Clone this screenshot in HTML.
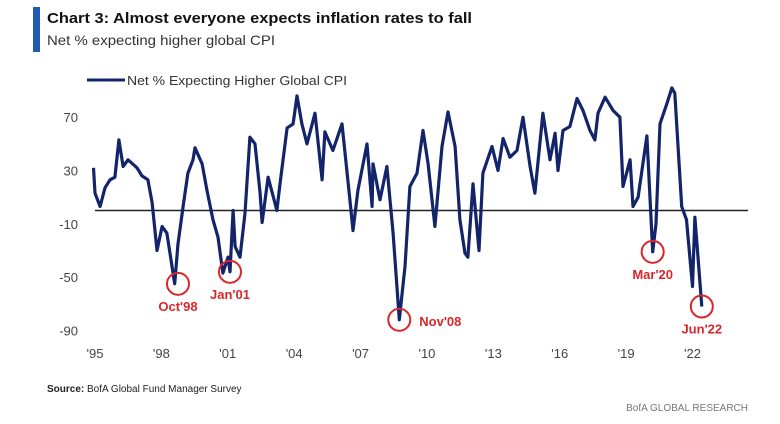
<!DOCTYPE html>
<html><head><meta charset="utf-8"><style>
body{margin:0;background:#fff;}
svg{display:block;font-family:"Liberation Sans",sans-serif;}
</style></head><body>
<svg id="c" width="780" height="424" xmlns="http://www.w3.org/2000/svg">
<rect x="0" y="0" width="780" height="424" fill="#fff"/>
<rect x="33" y="7" width="7" height="45" fill="#1f5bb5"/>
<text x="47" y="23" font-size="15" font-weight="bold" fill="#111" textLength="425" lengthAdjust="spacingAndGlyphs">Chart 3: Almost everyone expects inflation rates to fall</text>
<text x="47" y="45" font-size="14" fill="#333" textLength="228" lengthAdjust="spacingAndGlyphs">Net % expecting higher global CPI</text>
<line x1="87" y1="80" x2="125" y2="80" stroke="#13246a" stroke-width="3"/>
<text x="127" y="85" font-size="13" fill="#333" textLength="220" lengthAdjust="spacingAndGlyphs">Net % Expecting Higher Global CPI</text>
<g id="yaxis"></g>
<g id="xaxis"></g>
<g id="plot"></g>
<g id="ann"></g>
<text x="47" y="392" font-size="10" fill="#222"><tspan font-weight="bold">Source:</tspan> BofA Global Fund Manager Survey</text>
<text x="748" y="411" font-size="10" fill="#777" text-anchor="end">BofA GLOBAL RESEARCH</text>
</svg>
<script>
const dates=[1994.93,1995.0,1995.23,1995.45,1995.68,1995.9,1996.08,1996.27,1996.49,1996.9,1997.12,1997.39,1997.58,1997.8,1998.03,1998.25,1998.6,1998.75,1998.98,1999.2,1999.43,1999.52,1999.84,2000.06,2000.33,2000.56,2000.78,2001.01,2001.1,2001.24,2001.33,2001.55,2001.78,2002.0,2002.23,2002.46,2002.55,2002.82,2003.22,2003.36,2003.68,2003.95,2004.13,2004.35,2004.58,2004.94,2005.26,2005.39,2005.75,2006.16,2006.52,2006.66,2006.88,2007.29,2007.52,2007.56,2007.88,2008.19,2008.47,2008.75,2009.01,2009.23,2009.55,2009.82,2010.05,2010.36,2010.68,2010.95,2011.27,2011.49,2011.72,2011.85,2012.08,2012.35,2012.53,2012.94,2013.21,2013.44,2013.75,2014.07,2014.34,2014.66,2014.88,2015.24,2015.56,2015.79,2015.92,2016.15,2016.46,2016.78,2017.05,2017.37,2017.59,2017.73,2018.05,2018.41,2018.72,2018.86,2019.18,2019.31,2019.54,2019.94,2020.2,2020.35,2020.53,2020.84,2021.07,2021.2,2021.51,2021.73,2022.0,2022.11,2022.42];
const values=[32,13,3,17,23,25,53,33,38,32,26,23,6,-30,-12,-17,-55,-25,3,28,38,47,35,15,-7,-20,-47,-35,-46,0,-27,-35,-2,55,50,13,-9,25,0,20,62,65,86,65,50,73,23,59,45,65,8,-15,15,50,3,35,8,33,-17,-82,-42,18,28,60,35,-12,48,74,48,-7,-32,-35,20,-30,28,48,30,54,40,45,70,33,13,73,38,58,30,60,63,84,75,60,53,73,85,75,70,18,38,3,10,56,-31,-10,65,80,92,88,3,-7,-57,-5,-72];
const yTicks=[70,30,-10,-50,-90];
const xTicks=[1995,1998,2001,2004,2007,2010,2013,2016,2019,2022];
const xTickLabels=["'95","'98","'01","'04","'07","'10","'13","'16","'19","'22"];
const notes=[["Oct'98",1998.75,-55],["Jan'01",2001.1,-46],["Nov'08",2008.75,-82],["Mar'20",2020.2,-31],["Jun'22",2022.42,-72]];
const NS="http://www.w3.org/2000/svg";
const X=d=>95+(d-1995)*22.13;
const Y=v=>210.5-v*1.333;
function mk(t,a,p){const e=document.createElementNS(NS,t);for(const k in a)e.setAttribute(k,a[k]);p.appendChild(e);return e;}
const ya=document.getElementById('yaxis'),xa=document.getElementById('xaxis'),pl=document.getElementById('plot'),an=document.getElementById('ann');
yTicks.forEach(v=>{const t=mk('text',{x:78,y:Y(v)+5,'font-size':13,fill:'#444','text-anchor':'end'},ya);t.textContent=v;

});
xTicks.forEach((d,i)=>{const t=mk('text',{x:X(d),y:358,'font-size':13,fill:'#444','text-anchor':'middle'},xa);t.textContent=xTickLabels[i];

});
const z=mk('line',{x1:95,x2:748,y1:Y(0),y2:Y(0),stroke:'#222','stroke-width':1.5},pl);


const n=Math.min(dates.length,values.length);
let d='';for(let i=0;i<n;i++)d+=(i?'L':'M')+X(dates[i]).toFixed(1)+','+Y(values[i]).toFixed(1);
const path=mk('path',{d:d,fill:'none',stroke:'#13246a','stroke-width':3.2,'stroke-linejoin':'round'},pl);


notes.forEach(n=>{const cx=X(n[1]),cy=Y(n[2]);
const c=mk('circle',{cx:cx,cy:cy,r:11,fill:'none',stroke:'#d9262a','stroke-width':2},an);


const isNov=n[0]==="Nov'08";
const t=mk('text',{x:isNov?cx+20:cx,y:isNov?cy+6:cy+27,'font-size':13,'font-weight':'bold',fill:'#d9262a','text-anchor':isNov?'start':'middle'},an);t.textContent=n[0];

});
</script>
</body></html>
